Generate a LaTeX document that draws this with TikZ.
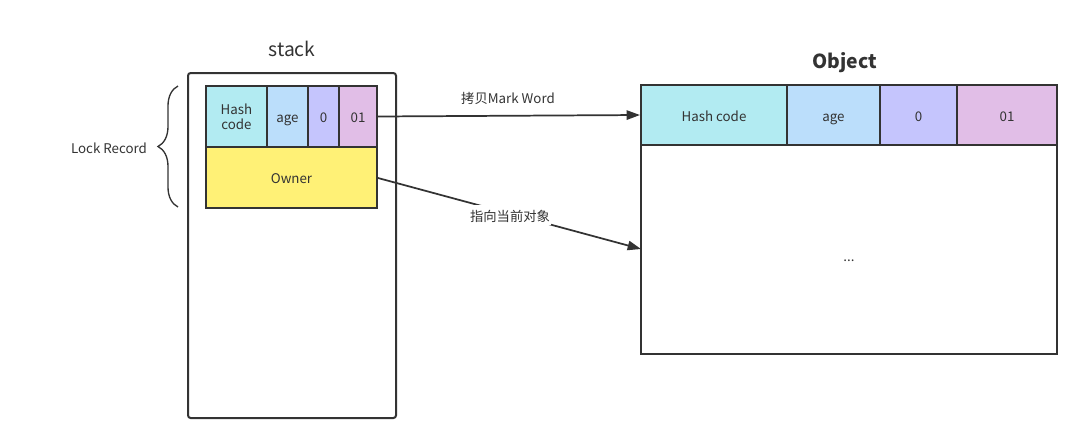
\documentclass[tikz,border=0pt]{standalone}
\usepackage{fontspec}
\setmainfont{Noto Sans CJK SC}
\usetikzlibrary{arrows.meta,decorations.pathreplacing}
\definecolor{ln}{HTML}{333333}
\definecolor{cHash}{HTML}{B2EBF2}
\definecolor{cAge}{HTML}{BBDEFB}
\definecolor{cZero}{HTML}{C5C5FD}
\definecolor{cOne}{HTML}{E1BEE7}
\definecolor{cOwner}{HTML}{FFF176}
\definecolor{tx}{HTML}{333333}
\tikzset{
  cell/.style={draw=ln, line width=1.5pt, inner sep=0pt, text=tx, font=\fontsize{10}{12}\selectfont, align=center, text height=1.15em, text depth=0.18em},
  lbl/.style={text=tx, font=\fontsize{10}{12}\selectfont, inner sep=1pt, text height=1.15em, text depth=0.18em},
  conn/.style={draw=ln, line width=1.3pt, -{Triangle[length=10pt,width=7pt]}},
}
\begin{document}
\begin{tikzpicture}[x=0.75pt,y=-0.75pt]
\useasboundingbox (0,0) rectangle (1083,444);
% stack
\node[draw=ln, line width=1.5pt, rounded corners=2pt, minimum width=156pt, minimum height=258.75pt, inner sep=0pt] (stackbox) at (292,245.5) {};
\node[text=tx, font=\fontsize{14.5}{17}\selectfont, text height=1.15em, text depth=0.18em] (stacklbl) at (292,50) {stack};
\node[cell, fill=cHash, minimum width=45.75pt, minimum height=45.75pt, text height={}, text depth={}, font=\fontsize{10}{13.5}\selectfont] (hs) at (236.5,116.5) {\raisebox{-3pt}{\shortstack{Hash\\code}}};
\node[cell, fill=cAge, minimum width=30.75pt, minimum height=45.75pt] (ag) at (287.5,116.5) {age};
\node[cell, fill=cZero, minimum width=23.25pt, minimum height=45.75pt] (zs) at (323.5,116.5) {0};
\node[cell, fill=cOne, minimum width=28.5pt, minimum height=45.75pt] (os) at (358,116.5) {01};
\node[cell, fill=cOwner, minimum width=128.25pt, minimum height=45.75pt] (ow) at (291.5,177.5) {Owner};
% brace
\coordinate (bb) at (178,207);
\coordinate (bt) at (178,86);
\draw[ln, line width=1pt, decorate, decoration={brace, amplitude=15pt}] (bb) -- (bt);
\node[lbl] (lr) at (109,147) {Lock Record};
% object
\node[draw=ln, line width=1.5pt, minimum width=312pt, minimum height=201.75pt, inner sep=0pt] (objbody) at (849,219.5) {};
\node[text=tx, font=\bfseries\fontsize{14.5}{17}\selectfont, text height=1.15em, text depth=0.18em] (objlbl) at (845,62) {Object};
\node[cell, fill=cHash, minimum width=109.5pt, minimum height=45pt] (oh) at (714,115) {Hash code};
\node[cell, fill=cAge, minimum width=69.75pt, minimum height=45pt] (oa) at (833.5,115) {age};
\node[cell, fill=cZero, minimum width=57.75pt, minimum height=45pt] (oz) at (918.5,115) {0};
\node[cell, fill=cOne, minimum width=75pt, minimum height=45pt] (oo) at (1007,115) {01};
\node[lbl] (dots) at (849,255) {...};
% connectors
\coordinate (tgt) at (641,249);
\draw[conn] (os.east) -- (oh.west);
\node[lbl] (l1) at (508,97) {拷贝Mark Word};
\draw[conn] (ow.east |- 0,178) -- (tgt);
\node[lbl, fill=white, inner sep=0.5pt] (l2) at (510,215) {指向当前对象};
\end{tikzpicture}
\end{document}
